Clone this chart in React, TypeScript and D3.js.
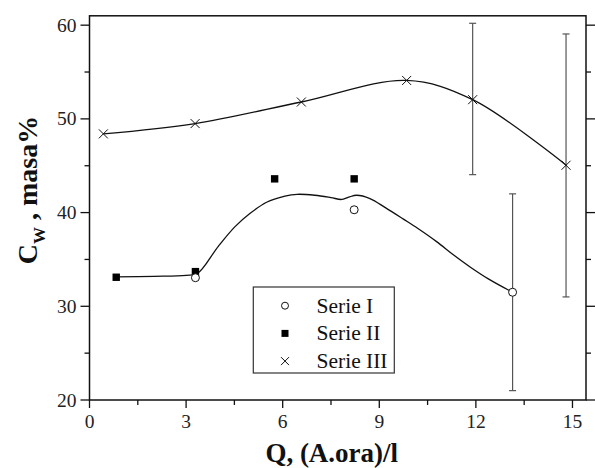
import React from "react";
import * as d3 from "d3";

const xTicks = [0, 3, 6, 9, 12, 15];
const xMinor = [1.5, 4.5, 7.5, 10.5, 13.5];
const yTicks = [20, 30, 40, 50, 60];
const yMinor = [25, 35, 45, 55];

// Serie I (open circles)
const s1X = [3.29, 8.22, 13.14];
const s1Y = [33.05, 40.3, 31.5];
// Serie II (filled squares)
const s2X = [0.83, 3.29, 5.75, 8.22];
const s2Y = [33.1, 33.7, 43.6, 43.6];
// Serie III (crosses)
const s3X = [0.43, 3.28, 6.58, 9.85, 11.9, 14.8];
const s3Y = [48.4, 49.5, 51.8, 54.1, 52.05, 45.05];

// error bars: [x, low, high]
const errX = [11.9, 14.8, 13.14];
const errLow = [44.05, 31.0, 21.0];
const errHigh = [60.2, 59.06, 42.0];

// smooth fitted curve (lower)
const fitLowX = [0.83, 2.0, 3.0, 3.35, 4.0, 4.52, 4.98, 5.5, 6.07, 6.45, 7.0, 7.5, 7.83, 8.05, 8.3, 8.71, 9.2, 9.75, 10.2, 10.78, 11.3, 11.82, 12.4, 13.14];
const fitLowY = [33.15, 33.2, 33.3, 33.5, 36.4, 38.5, 39.9, 41.1, 41.75, 41.95, 41.85, 41.6, 41.4, 41.65, 41.85, 41.5, 40.5, 39.3, 38.3, 36.9, 35.5, 34.2, 32.9, 31.5];

const legendLabels = ["Serie I", "Serie II", "Serie III"];

const W = 595;
const H = 468;
const L = 89.5;
const R = 586;
const T = 15.8;
const B = 400;

export default function App() {
  const x = d3.scaleLinear().domain([0, 15.42]).range([L, R]);
  const y = d3.scaleLinear().domain([20, 61]).range([B, T]);

  const line = d3
    .line<[number, number]>()
    .x((d) => x(d[0]))
    .y((d) => y(d[1]))
    .curve(d3.curveCatmullRom.alpha(0.5));

  const upper = line(s3X.map((v, i) => [v, s3Y[i]] as [number, number])) || "";
  const lower = line(fitLowX.map((v, i) => [v, fitLowY[i]] as [number, number])) || "";

  const font = "'Liberation Serif', 'Times New Roman', serif";
  const ink = "#111";

  const cross = (cx: number, cy: number, s: number, key: string) => (
    <path
      key={key}
      d={`M${cx - s},${cy - s}L${cx + s},${cy + s}M${cx - s},${cy + s}L${cx + s},${cy - s}`}
      stroke={ink}
      strokeWidth={1}
      fill="none"
    />
  );

  return (
    <svg width={W} height={H} style={{ position: "absolute", left: 0, top: 0, background: "#fff" }}>
      <rect x={0} y={0} width={W} height={H} fill="#fff" />
      {/* frame */}
      <rect x={L} y={T} width={R - L} height={B - T} fill="none" stroke={ink} strokeWidth={1.5} />

      {/* x ticks */}
      {xTicks.map((t) => (
        <g key={"xt" + t}>
          <line x1={x(t)} x2={x(t)} y1={B} y2={B + 8} stroke={ink} strokeWidth={1.3} />
          <text x={x(t)} y={B + 28} textAnchor="middle" fontFamily={font} fontSize={19.5} fill="#222">
            {t}
          </text>
        </g>
      ))}
      {xMinor.map((t) => (
        <line key={"xm" + t} x1={x(t)} x2={x(t)} y1={B} y2={B + 5} stroke={ink} strokeWidth={1.3} />
      ))}

      {/* y ticks */}
      {yTicks.map((t) => (
        <g key={"yt" + t}>
          <line x1={L - 9} x2={L} y1={y(t)} y2={y(t)} stroke={ink} strokeWidth={1.3} />
          <line x1={R} x2={R + 9} y1={y(t)} y2={y(t)} stroke={ink} strokeWidth={1.3} />
          <text x={L - 13} y={y(t) + 6.5} textAnchor="end" fontFamily={font} fontSize={19.5} fill="#222">
            {t}
          </text>
        </g>
      ))}
      {yMinor.map((t) => (
        <g key={"ym" + t}>
          <line x1={L - 5} x2={L} y1={y(t)} y2={y(t)} stroke={ink} strokeWidth={1.3} />
          <line x1={R} x2={R + 5} y1={y(t)} y2={y(t)} stroke={ink} strokeWidth={1.3} />
        </g>
      ))}

      {/* axis titles */}
      <text
        x={(L + R) / 2 - 6}
        y={H - 6}
        textAnchor="middle"
        fontFamily={font}
        fontSize={27}
        fontWeight="bold"
        fill="#111"
      >
        Q, (A.ora)/l
      </text>
      <text
        transform={`translate(37,190) rotate(-90)`}
        textAnchor="middle"
        fontFamily={font}
        fontSize={28}
        fontWeight="bold"
        fill="#111"
      >
        C<tspan fontSize={17} dy={8}>W</tspan>
        <tspan dy={-8}> , masa%</tspan>
      </text>

      {/* error bars */}
      {errX.map((ex, i) => (
        <g key={"e" + i} stroke="#555" strokeWidth={1.2}>
          <line x1={x(ex)} x2={x(ex)} y1={y(errLow[i])} y2={y(errHigh[i])} />
          <line x1={x(ex) - 3.5} x2={x(ex) + 3.5} y1={y(errLow[i])} y2={y(errLow[i])} />
          <line x1={x(ex) - 3.5} x2={x(ex) + 3.5} y1={y(errHigh[i])} y2={y(errHigh[i])} />
        </g>
      ))}

      {/* curves */}
      <path d={upper} fill="none" stroke={ink} strokeWidth={1.3} />
      <path d={lower} fill="none" stroke={ink} strokeWidth={1.3} />

      {/* Serie III */}
      {s3X.map((v, i) => cross(x(v), y(s3Y[i]), 4.5, "c" + i))}
      {/* Serie II */}
      {s2X.map((v, i) => (
        <rect key={"s" + i} x={x(v) - 3.7} y={y(s2Y[i]) - 3.7} width={7.4} height={7.4} fill="#000" />
      ))}
      {/* Serie I */}
      {s1X.map((v, i) => (
        <circle key={"o" + i} cx={x(v)} cy={y(s1Y[i])} r={4} fill="#fff" stroke={ink} strokeWidth={1} />
      ))}

      {/* legend */}
      <rect x={253.3} y={287} width={141} height={86} fill="#fff" stroke="#333" strokeWidth={1.2} />
      {legendLabels.map((lab, i) => {
        const cy = 305.7 + i * 27.7;
        return (
          <g key={"lg" + i}>
            {i === 0 && <circle cx={285} cy={cy} r={3.5} fill="#fff" stroke={ink} strokeWidth={1} />}
            {i === 1 && <rect x={281.5} y={cy - 3.5} width={7} height={7} fill="#000" />}
            {i === 2 && cross(285, cy, 4, "lgx")}
            <text x={316.5} y={cy + 7} fontFamily={font} fontSize={21.5} fill="#111">
              {lab}
            </text>
          </g>
        );
      })}
    </svg>
  );
}
